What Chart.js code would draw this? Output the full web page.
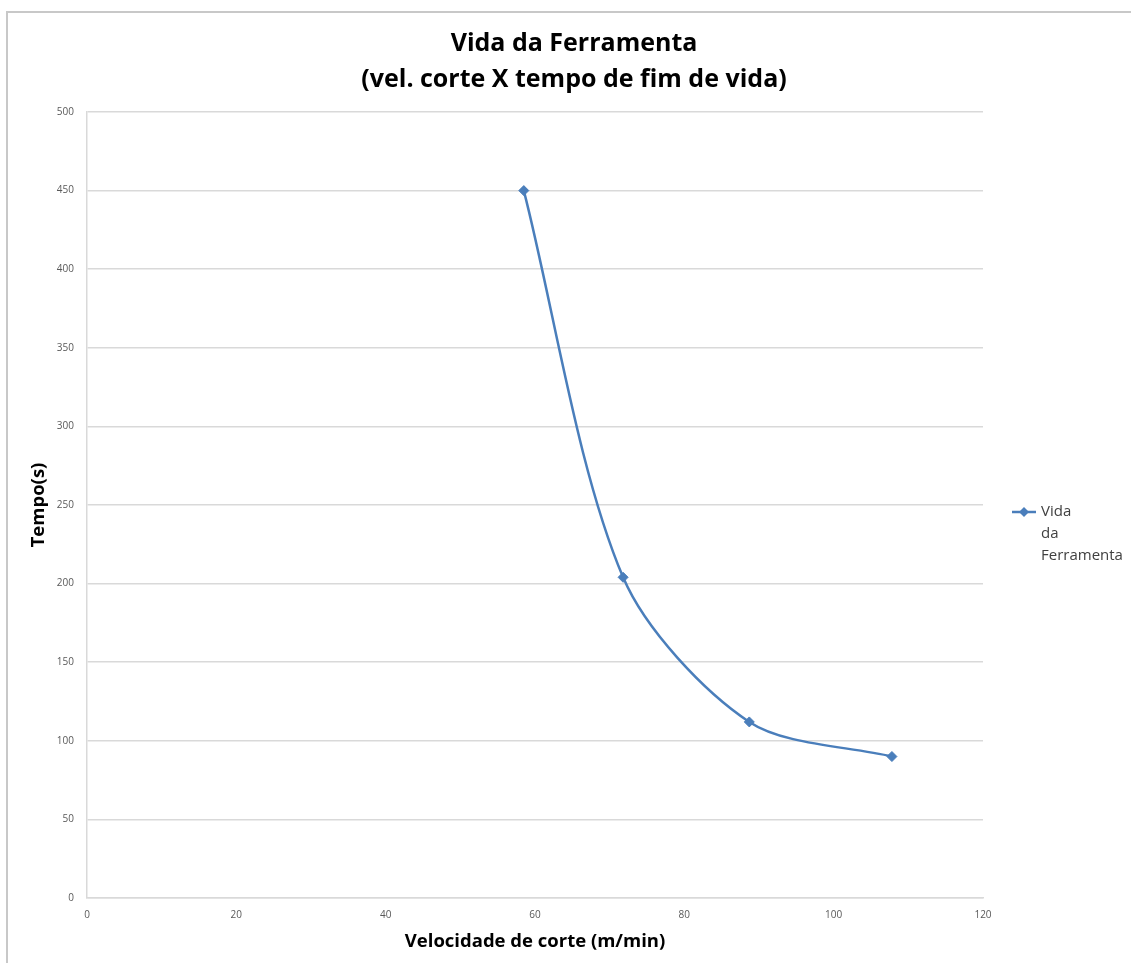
<!DOCTYPE html>
<html lang="pt">
<head>
<meta charset="utf-8">
<title>Vida da Ferramenta</title>
<script src="https://cdn.jsdelivr.net/npm/chart.js@4/dist/chart.umd.min.js"></script>
<style>
  html, body { margin: 0; padding: 0; background: #ffffff; }
  #wrap { width: 1131px; height: 963px; position: relative; }
</style>
</head>
<body>
<div id="wrap"><canvas id="chart" width="1131" height="963"></canvas></div>
<script>
// Cutting speed (m/min) and end-of-life time (s)
const velocidade = [58.5, 71.8, 88.7, 107.8];
const tempo = [450, 204, 112, 90];
const serieNome = 'Vida da Ferramenta';
const tituloLinhas = ['Vida da Ferramenta', '(vel. corte X tempo de fim de vida)'];
const tituloX = 'Velocidade de corte (m/min)';
const tituloY = 'Tempo(s)';
const xMin = 0, xMax = 120, xPasso = 20;
const yMin = 0, yMax = 500, yPasso = 50;

const azul = '#4a7ebb';
const textoEscuro = '#000000';
const textoTicks = '#595959';
const grade = '#d9d9d9';

// Frame, two-line title and wrapped legend entry
const decoracao = {
  id: 'decoracao',
  beforeDraw(chart) {
    const ctx = chart.ctx;
    ctx.save();
    ctx.fillStyle = '#ffffff';
    ctx.fillRect(0, 0, chart.width, chart.height);
    ctx.strokeStyle = '#c8c8c8';
    ctx.lineWidth = 2;
    ctx.beginPath();
    ctx.moveTo(7, chart.height);
    ctx.lineTo(7, 12);
    ctx.lineTo(chart.width, 12);
    ctx.stroke();
    ctx.restore();
  },
  afterDraw(chart) {
    const ctx = chart.ctx;
    ctx.save();
    ctx.fillStyle = textoEscuro;
    ctx.textAlign = 'center';
    ctx.textBaseline = 'middle';
    ctx.font = 'bold 25px "Open Sans", sans-serif';
    tituloLinhas.forEach((t, i) => ctx.fillText(t, 574, 44 + i * 36));

    // legend entry
    const ly = 512;
    ctx.strokeStyle = azul;
    ctx.lineWidth = 2.5;
    ctx.beginPath();
    ctx.moveTo(1012, ly);
    ctx.lineTo(1036, ly);
    ctx.stroke();
    ctx.fillStyle = azul;
    ctx.beginPath();
    ctx.moveTo(1024, ly - 5);
    ctx.lineTo(1029, ly);
    ctx.lineTo(1024, ly + 5);
    ctx.lineTo(1019, ly);
    ctx.closePath();
    ctx.fill();
    ctx.fillStyle = '#404040';
    ctx.textAlign = 'left';
    ctx.font = '15px "Open Sans", sans-serif';
    const palavras = chart.data.datasets[0].label.split(' ');
    palavras.forEach((p, i) => ctx.fillText(p, 1041, ly + i * 22));
    ctx.restore();
  }
};

new Chart(document.getElementById('chart'), {
  type: 'scatter',
  data: {
    datasets: [{
      label: serieNome,
      data: velocidade.map((v, i) => ({ x: v, y: tempo[i] })),
      showLine: true,
      borderColor: azul,
      backgroundColor: azul,
      borderWidth: 2.5,
      tension: 0.3,
      pointStyle: 'rectRot',
      pointRadius: 5,
      pointBorderWidth: 1,
      pointBorderColor: azul,
      pointBackgroundColor: azul
    }]
  },
  options: {
    responsive: false,
    animation: false,
    layout: { padding: { top: 112, right: 148, bottom: 0, left: 0 } },
    plugins: {
      legend: { display: false },
      title: { display: false },
      tooltip: { enabled: false }
    },
    scales: {
      x: {
        type: 'linear',
        min: xMin, max: xMax,
        afterFit(s) { s.height = 65; },
        ticks: {
          stepSize: xPasso,
          padding: 11,
          color: textoTicks,
          font: { family: '"Open Sans", sans-serif', size: 10 },
          maxRotation: 0
        },
        grid: { display: false, drawTicks: false },
        border: { display: true, color: grade, width: 1.5 },
        title: {
          display: true,
          text: tituloX,
          color: textoEscuro,
          font: { family: '"Open Sans", sans-serif', size: 18.5, weight: 'bold' },
          padding: { top: 0, bottom: 10 }
        }
      },
      y: {
        type: 'linear',
        min: yMin, max: yMax,
        afterFit(s) { s.width = 87; },
        ticks: {
          stepSize: yPasso,
          padding: 13,
          color: textoTicks,
          font: { family: '"Open Sans", sans-serif', size: 10 }
        },
        grid: { color: grade, lineWidth: 1.5, drawTicks: false },
        border: { display: true, color: grade, width: 1.5 },
        title: {
          display: true,
          text: tituloY,
          color: textoEscuro,
          font: { family: '"Open Sans", sans-serif', size: 18.5, weight: 'bold' },
          padding: { top: 28, bottom: 0 }
        }
      }
    }
  },
  plugins: [decoracao]
});
</script>
</body>
</html>
